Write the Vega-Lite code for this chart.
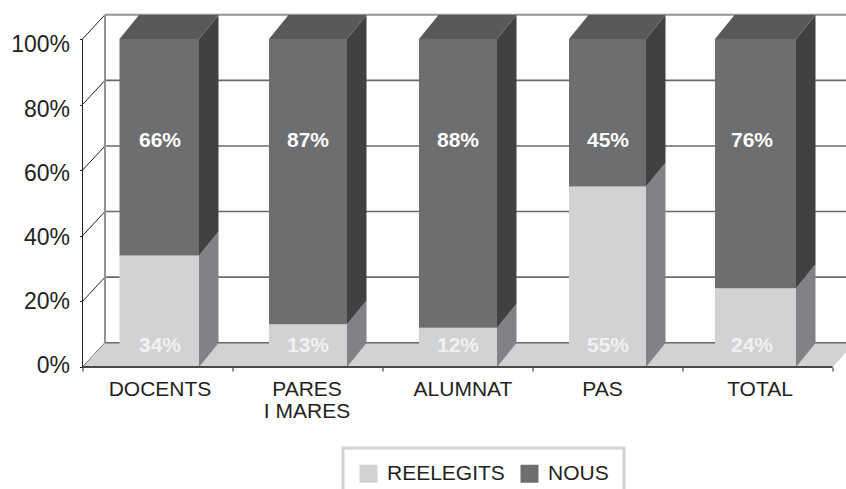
{
"$schema":"https://vega.github.io/schema/vega-lite/v6.json",
"width":763.5,"height":367,
"autosize":{"type":"none"},
"padding":{"left":82.5,"top":0,"right":0,"bottom":122},
"background":"white",
"config":{"view":{"stroke":null},"font":"Liberation Sans","legend":{"strokeWidth":3}},
"resolve":{"axis":{"x":"independent","y":"independent"}},
"datasets":{
"bars":[
{"category":"DOCENTS","series":"REELEGITS","value":34},
{"category":"DOCENTS","series":"NOUS","value":66},
{"category":"PARES\nI MARES","series":"REELEGITS","value":13},
{"category":"PARES\nI MARES","series":"NOUS","value":87},
{"category":"ALUMNAT","series":"REELEGITS","value":12},
{"category":"ALUMNAT","series":"NOUS","value":88},
{"category":"PAS","series":"REELEGITS","value":55},
{"category":"PAS","series":"NOUS","value":45},
{"category":"TOTAL","series":"REELEGITS","value":24},
{"category":"TOTAL","series":"NOUS","value":76}],
"ticks":[{"tick":0},{"tick":20},{"tick":40},{"tick":60},{"tick":80},{"tick":100}],
"planes":[{"depth":0},{"depth":1}]
},
"layer":[
{"data":{"name":"ticks"},
 "transform":[{"calculate":"[0,1]","as":"depth"},{"flatten":["depth"]},{"calculate":"datum.depth*0.15","as":"px"},{"calculate":"datum.tick+datum.depth*7.4","as":"py"}],
 "mark":{"type":"line","color":"#231f20","strokeWidth":1},
 "encoding":{
  "x":{"field":"px","type":"quantitative","scale":{"domain":[0,5.09],"nice":false,"zero":false},"title":null,
       "axis":{"values":[0,1,2,3,4,5],"labels":false,"domain":false,"grid":false,"tickSize":4,"tickColor":"#231f20","title":null}},
  "y":{"field":"py","type":"quantitative","scale":{"domain":[0,111.89],"nice":false},"title":null,
       "axis":{"values":[0,20,40,60,80,100],"labelExpr":"datum.value+'%'","labelFontSize":23,"labelColor":"#231f20","labelFont":"Liberation Sans","domain":false,"grid":false,"tickSize":3,"tickColor":"#231f20","labelPadding":10,"title":null,
         "labelOffset":{"expr":"-1.5+datum.value*0.075"}}},
  "detail":{"field":"tick"}}},
{"data":{"name":"ticks"},
 "transform":[{"filter":"datum.tick>0 && datum.tick<100"},{"calculate":"datum.tick+7.4","as":"py"},{"calculate":"0.15","as":"xa"},{"calculate":"5.09","as":"xb"}],
 "mark":{"type":"rule","color":"#6a6a6a","strokeWidth":1.6},
 "encoding":{"x":{"field":"xa","type":"quantitative","axis":null},"x2":{"field":"xb"},"y":{"field":"py","type":"quantitative","axis":null}}},
{"data":{"name":"ticks"},
 "transform":[{"filter":"datum.tick==100"},{"calculate":"datum.tick+7.4","as":"py"},{"calculate":"0.15","as":"xa"},{"calculate":"5.09","as":"xb"}],
 "mark":{"type":"rule","color":"#939393","strokeWidth":2},
 "encoding":{"x":{"field":"xa","type":"quantitative","axis":null},"x2":{"field":"xb"},"y":{"field":"py","type":"quantitative","axis":null}}},
{"data":{"name":"planes"},
 "transform":[{"filter":"datum.depth==1"},{"calculate":"0.15","as":"xa"},{"calculate":"7.4","as":"ya"},{"calculate":"107.4","as":"yb"}],
 "mark":{"type":"rule","color":"#939393","strokeWidth":2},
 "encoding":{"x":{"field":"xa","type":"quantitative","axis":null},"y":{"field":"ya","type":"quantitative","axis":null},"y2":{"field":"yb"}}},
{"data":{"name":"planes"},
 "transform":[{"filter":"datum.depth==0"},{"calculate":"0","as":"xa"},{"calculate":"0","as":"ya"},{"calculate":"100","as":"yb"}],
 "mark":{"type":"rule","color":"#231f20","strokeWidth":1},
 "encoding":{"x":{"field":"xa","type":"quantitative","axis":null},"y":{"field":"ya","type":"quantitative","axis":null},"y2":{"field":"yb"}}},
{"data":{"name":"planes"},
 "transform":[{"calculate":"datum.depth*7.4","as":"py"},{"calculate":"datum.depth*0.15","as":"xa"},{"calculate":"5+datum.depth*0.15","as":"xb"}],
 "mark":{"type":"area","orient":"horizontal","color":"#d1d2d4","clip":true},
 "encoding":{"y":{"field":"py","type":"quantitative","axis":null},"x":{"field":"xa","type":"quantitative","axis":null},"x2":{"field":"xb"}}},
{"data":{"name":"ticks"},
 "transform":[{"filter":"datum.tick==0"},{"calculate":"7.4","as":"py"},{"calculate":"0.15","as":"xa"},{"calculate":"5.09","as":"xb"}],
 "mark":{"type":"rule","color":"#6a6a6a","strokeWidth":1.6},
 "encoding":{"x":{"field":"xa","type":"quantitative","axis":null},"x2":{"field":"xb"},"y":{"field":"py","type":"quantitative","axis":null}}},
{"data":{"name":"bars"},
 "transform":[
  {"stack":"value","groupby":["category"],"sort":[{"field":"series","order":"descending"}],"as":["v0","v1"]},
  {"calculate":"indexof(['DOCENTS','PARES\\nI MARES','ALUMNAT','PAS','TOTAL'],datum.category)","as":"idx"},
  {"calculate":"([199,347,497,646,796][datum.idx]-82.5)/150","as":"x1"},
  {"calculate":"[0,1]","as":"depth"},{"flatten":["depth"]},
  {"calculate":"datum.x1+datum.depth*0.13","as":"px"},
  {"calculate":"datum.v0+datum.depth*7.3","as":"pa"},
  {"calculate":"datum.v1+datum.depth*7.3","as":"pb"}],
 "mark":{"type":"area"},
 "encoding":{"x":{"field":"px","type":"quantitative","axis":null},
  "y":{"field":"pa","type":"quantitative","axis":null,"stack":null},"y2":{"field":"pb"},
  "detail":[{"field":"category"},{"field":"series"}],
  "color":{"condition":{"test":"datum.series=='NOUS'","value":"#414141"},"value":"#808285"}}},
{"data":{"name":"bars"},
 "transform":[
  {"filter":"datum.series=='NOUS'"},
  {"calculate":"indexof(['DOCENTS','PARES\\nI MARES','ALUMNAT','PAS','TOTAL'],datum.category)","as":"idx"},
  {"calculate":"([119.5,269,419,569,715][datum.idx]-82.5)/150","as":"x0"},
  {"calculate":"([199,347,497,646,796][datum.idx]-82.5)/150","as":"x1"},
  {"calculate":"[0,1]","as":"depth"},{"flatten":["depth"]},
  {"calculate":"100+datum.depth*7.3","as":"py"},
  {"calculate":"datum.x0+datum.depth*0.13","as":"xa"},
  {"calculate":"datum.x1+datum.depth*0.13","as":"xb"}],
 "mark":{"type":"area","orient":"horizontal","color":"#58595b"},
 "encoding":{"y":{"field":"py","type":"quantitative","axis":null,"stack":null},"x":{"field":"xa","type":"quantitative","axis":null},"x2":{"field":"xb"},"detail":{"field":"category"}}},
{"data":{"name":"bars"},
 "transform":[
  {"stack":"value","groupby":["category"],"sort":[{"field":"series","order":"descending"}],"as":["v0","v1"]},
  {"calculate":"indexof(['DOCENTS','PARES\\nI MARES','ALUMNAT','PAS','TOTAL'],datum.category)","as":"idx"},
  {"calculate":"([119.5,269,419,569,715][datum.idx]-82.5)/150","as":"x0"},
  {"calculate":"([199,347,497,646,796][datum.idx]-82.5)/150","as":"x1"}],
 "mark":{"type":"rect"},
 "encoding":{"x":{"field":"x0","type":"quantitative","axis":null},"x2":{"field":"x1"},
  "y":{"field":"v0","type":"quantitative","axis":null},"y2":{"field":"v1"},
  "color":{"field":"series","type":"nominal","scale":{"domain":["REELEGITS","NOUS"],"range":["#d1d2d4","#6d6e70"]},
   "legend":{"title":null,"orient":"none","legendX":260.5,"legendY":448,"direction":"horizontal","columns":2,"padding":15,"strokeColor":"#d1d2d4","fillColor":"white","symbolType":"square","symbolSize":324,"symbolStrokeWidth":0,"labelFontSize":21,"labelColor":"#231f20","labelFont":"Liberation Sans","labelOffset":8,"columnPadding":14,"labelLimit":200}}}},
{"data":{"name":"ticks"},
 "transform":[{"filter":"datum.tick==0"},{"calculate":"0","as":"xa"},{"calculate":"5","as":"xb"}],
 "mark":{"type":"rule","color":"#4a4748","strokeWidth":2},
 "encoding":{"x":{"field":"xa","type":"quantitative","axis":null},"x2":{"field":"xb"},"y":{"field":"tick","type":"quantitative","axis":null}}},
{"data":{"name":"bars"},
 "transform":[
  {"calculate":"indexof(['DOCENTS','PARES\\nI MARES','ALUMNAT','PAS','TOTAL'],datum.category)","as":"idx"},
  {"calculate":"([160,308,458,608,752][datum.idx]-82.5)/150","as":"xc"},
  {"calculate":"datum.series=='NOUS'?68.9:6.4","as":"ly"},
  {"calculate":"datum.value+'%'","as":"lbl"}],
 "mark":{"type":"text","fontSize":21,"fontWeight":"bold","font":"Liberation Sans","baseline":"middle"},
 "encoding":{"x":{"field":"xc","type":"quantitative","axis":null},"y":{"field":"ly","type":"quantitative","axis":null},
  "text":{"field":"lbl"},
  "color":{"condition":{"test":"datum.series=='NOUS'","value":"#ffffff"},"value":"#f1f1f2"}}},
{"data":{"name":"bars"},
 "transform":[
  {"filter":"datum.series=='NOUS'"},
  {"calculate":"indexof(['DOCENTS','PARES\\nI MARES','ALUMNAT','PAS','TOTAL'],datum.category)","as":"idx"},
  {"calculate":"([160,307,463,602.5,760][datum.idx]-82.5)/150","as":"xc"},
  {"calculate":"0","as":"ly"}],
 "mark":{"type":"text","fontSize":21,"font":"Liberation Sans","baseline":"top","dy":11.5,"lineBreak":"\n","lineHeight":22,"color":"#231f20"},
 "encoding":{"x":{"field":"xc","type":"quantitative","axis":null},"y":{"field":"ly","type":"quantitative","axis":null},"text":{"field":"category"}}}
]
}
